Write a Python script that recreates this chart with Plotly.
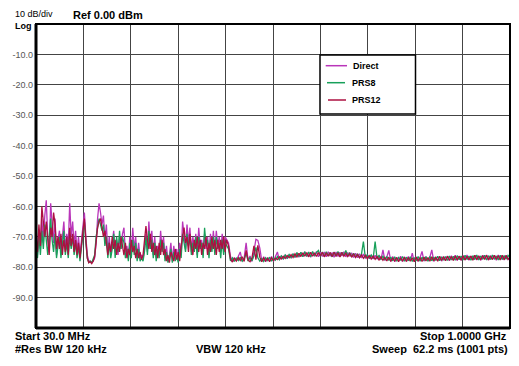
import plotly.graph_objects as go

# ---------------- data ----------------
busy_freq = list(range(30, 421, 3))     # MHz, 131 points (30 .. 420)
FLAT_START, FLAT_STEP = 424, 4          # flat part: 424 .. 1000 MHz

direct_busy = [-66, -76, -68, -74, -64, -72, -63, -58, -70, -75, -59, -66, -72, -64, -76, -71, -68, -75, -70, -65,
               -74, -69, -73, -59, -70, -65, -73, -68, -75, -70, -76, -72, -66, -62, -70, -76, -78, -78, -78.5, -78,
               -77, -72, -64, -59, -62, -66, -63, -71, -66, -75, -70, -76, -72, -68, -75, -71, -76, -70, -74, -69,
               -67, -75, -73, -77, -70, -76, -67, -74, -70, -77, -72, -77, -76, -77, -74, -69, -75, -65, -73, -68,
               -76, -70, -77, -73, -76, -68, -74, -70, -77, -73, -78, -76, -72, -78, -73, -77, -74, -78, -72, -76,
               -65, -70, -74, -66, -72, -67, -75, -70, -74, -69, -76, -67, -73, -71, -76, -69, -74, -70, -76, -69,
               -74, -68, -75, -68, -73, -70, -75, -69, -74, -70, -71]
direct_flat = [-72, -76.5, -78.2, -76.8, -77.9, -76.4, -75, -78, -76.9, -72,
               -77.8, -76.3, -78.1, -74.8, -70.8, -71.2, -73.7, -77.9, -76.6, -78.2,
               -76.8, -77.9, -76.5, -78, -76.7, -75, -77.6, -76.2, -77.4, -75.9,
               -77.2, -76, -76.9, -75.6, -76.8, -75.3, -76.7, -75.1, -76.6, -74.9,
               -76.5, -75.2, -76.7, -75, -76.4, -74.8, -76.6, -75.1, -76.5, -75,
               -76.6, -74.9, -76.4, -75.2, -76.7, -75, -76.5, -75.1, -76.3, -74.9,
               -76.6, -75.2, -76.4, -75.3, -76.8, -75.4, -76.9, -75.6, -77, -75.7,
               -77.1, -75.8, -77.2, -76, -77.3, -76.1, -77.4, -76.2, -77.5, -74.3,
               -77.8, -76.6, -74.5, -78, -76.5, -78.2, -76.7, -78, -76.4, -78.1,
               -76.6, -78, -76.5, -77.9, -75.4, -78.1, -76.6, -78, -76.8, -74.8,
               -78, -76.5, -77.9, -76.7, -74.3, -78.1, -76.6, -77.9, -76.4, -78,
               -76.5, -77.8, -76.3, -77.9, -76.2, -77.6, -76.1, -77.8, -76.3, -77.7,
               -76.2, -77.6, -76, -77.7, -76.3, -77.5, -76.1, -77.6, -76.2, -77.7,
               -76.1, -77.5, -76, -77.6, -76.2, -77.4, -76.1, -77.7, -76, -77.5,
               -76.2, -77.6, -76.1, -77.4, -76.5]

prs8_busy = [-72, -77, -70, -76, -68, -74, -66, -72, -76, -70, -64, -71, -75, -69, -77, -73, -70, -77, -73, -68,
             -76, -72, -77, -70, -74, -70, -76, -72, -77, -73, -78, -74, -69, -65, -72, -77, -78.5, -78, -78.5, -77.5,
             -76, -70, -66, -64, -66, -68, -66, -73, -70, -77, -72, -77, -74, -69, -77, -70, -75, -68, -74, -70,
             -72, -77, -74, -78, -72, -77, -71, -76, -72, -78, -74, -78, -77, -78, -75, -70, -76, -68, -74, -71,
             -77, -72, -78, -74, -77, -71, -75, -72, -78, -75, -78.5, -77, -74, -78.5, -75, -78, -76, -78.5, -74, -77,
             -69, -72, -75, -69, -73, -70, -76, -72, -75, -70, -77, -70, -74, -72, -77, -67, -73, -71, -77, -71,
             -75, -70, -76, -70, -74, -72, -77, -71, -76, -72, -73]
prs8_flat = [-74, -77.9, -76.9, -78.1, -77, -77.8, -76.7, -78, -77.1, -75.5,
             -78, -76.8, -77.9, -76.2, -73.5, -76.9, -78, -77.2, -78.1, -76.9,
             -77.8, -76.7, -78, -77, -77.7, -76.5, -77.5, -76.3, -77.2, -76,
             -77, -75.8, -76.8, -75.6, -76.7, -75.2, -76.5, -75.1, -76.6, -74.9,
             -76.4, -75, -76.6, -74.8, -76.3, -75.1, -74.5, -76.4, -75, -76.5,
             -74.9, -76.3, -75.2, -76.6, -75, -76.4, -74.8, -76.5, -75.1, -76.2,
             -74.5, -76.4, -75.2, -76.6, -75.4, -76.7, -75.6, -76.9, -75.8, -71.6,
             -76.9, -75.9, -77, -76, -77.1, -71.6, -77.2, -76.2, -77.4, -76.4,
             -77.6, -76.5, -77.8, -76.7, -77.9, -76.6, -78, -76.8, -77.8, -76.5,
             -78, -76.7, -77.9, -76.6, -78.1, -76.8, -77.9, -76.5, -78, -76.7,
             -77.8, -76.6, -78, -76.5, -77.9, -76.7, -77.8, -76.4, -77.9, -76.6,
             -77.7, -76.5, -77.8, -76.3, -77.6, -76.4, -77.7, -76.2, -77.5, -76.3,
             -77.6, -76.1, -77.5, -76.3, -77.7, -76.2, -77.5, -76, -77.6, -76.3,
             -77.4, -76.1, -77.6, -76.2, -77.5, -76, -77.4, -76.3, -77.6, -76.1,
             -77.5, -76.2, -77.4, -76.1, -76.8]

prs12_busy = [-70, -75, -66, -73, -60, -64, -70, -65, -72, -76, -67, -70, -62, -66, -74, -70, -74, -69, -76, -71,
              -75, -70, -76, -67, -73, -69, -75, -71, -76, -72, -77, -73, -68, -64, -71, -77, -78.5, -78.2, -78.8, -78,
              -76.5, -71, -67, -65, -64, -67, -70, -68, -73, -76, -72, -75, -70, -74, -71, -76, -72, -75, -70, -74,
              -76, -72, -77, -74, -76, -71, -75, -73, -77, -74, -77, -75, -77.5, -76, -72, -66.5, -71, -74, -69, -75,
              -72, -76, -73, -77, -72, -76, -71, -76, -74, -78, -76, -78.5, -75, -77, -78, -74, -77.5, -75, -78, -73,
              -70, -67, -72, -70, -75, -69, -73, -76, -71, -74, -70, -75, -71, -76, -72, -74, -70, -76, -72, -75,
              -70, -74, -71, -76, -71, -75, -71, -74, -70, -75, -71]
prs12_flat = [-73, -77.3, -78.3, -77, -78, -76.9, -77.8, -76.6, -78.1, -74.5,
              -77.6, -78.2, -76.9, -73, -77.5, -72.8, -76.7, -78.2, -77, -77.9,
              -77.1, -78.2, -76.9, -77.8, -77, -77.5, -76.6, -77.3, -76.4, -77.1,
              -76.2, -76.9, -75.9, -76.8, -75.6, -76.6, -75.4, -76.5, -75.3, -76.4,
              -75.2, -76.6, -75.1, -76.4, -75.3, -76.5, -75.2, -76.3, -75.1, -76.6,
              -75.3, -76.4, -75.2, -76.5, -75.1, -76.3, -75.3, -76.6, -75.2, -76.4,
              -75.4, -76.5, -75.5, -76.7, -75.6, -76.8, -75.8, -76.9, -76, -77.1,
              -76.1, -77.2, -76.2, -77.3, -76.4, -77.4, -76.5, -77.6, -76.6, -77.7,
              -76.8, -77.9, -76.7, -78.1, -76.9, -78, -76.8, -78.2, -76.9, -78,
              -76.7, -78.1, -76.8, -78, -76.9, -78.2, -76.7, -78, -76.8, -78.1,
              -76.7, -77.9, -76.8, -78, -76.6, -77.9, -76.7, -78, -76.5, -77.8,
              -76.6, -77.9, -76.4, -77.7, -76.5, -77.8, -76.3, -77.6, -76.4, -77.7,
              -76.2, -77.6, -76.4, -77.5, -76.3, -77.7, -76.1, -77.5, -76.3, -77.6,
              -76.2, -77.4, -76.1, -77.6, -76.3, -77.5, -76.1, -77.4, -76.2, -77.6,
              -76.1, -77.5, -76.2, -77.4, -76.7]

series_names = ["Direct", "PRS8", "PRS12"]
series_values = [direct_busy + direct_flat, prs8_busy + prs8_flat, prs12_busy + prs12_flat]
series_colors = ["#B935B9", "#18A05A", "#AC1040"]

y_tick_vals = [-10, -20, -30, -40, -50, -60, -70, -80, -90]
y_tick_text = ["-10.0", "-20.0", "-30.0", "-40.0", "-50.0", "-60.0", "-70.0", "-80.0", "-90.0"]

# ---------------- layout helpers ----------------
W, H = 519, 366
L, R, T, B = 36, 9, 24, 38
PW, PH = W - L - R, H - T - B


def px(x):
    return (x - L) / PW


def py(y):
    return (H - B - y) / PH


FONT = "Liberation Sans, Arial, sans-serif"

fig = go.Figure()
for name, vals, col in zip(series_names, series_values, series_colors):
    n_flat = len(vals) - len(busy_freq)
    xs = busy_freq + [FLAT_START + FLAT_STEP * i for i in range(n_flat)]
    fig.add_trace(go.Scatter(x=xs, y=vals, mode="lines", name=name,
                             line=dict(color=col, width=1.3), showlegend=False))

fig.update_layout(
    width=W, height=H,
    margin=dict(l=L, r=R, t=T, b=B),
    paper_bgcolor="white", plot_bgcolor="white",
    font=dict(family=FONT, color="#000"),
    xaxis=dict(range=[30, 1000], tickvals=[30 + 97 * k for k in range(11)], showticklabels=False,
               showgrid=True, gridcolor="#444", gridwidth=1, zeroline=False, ticks=""),
    yaxis=dict(range=[-100, 0], tickvals=y_tick_vals, ticktext=y_tick_text, showgrid=True,
               gridcolor="#444", gridwidth=1, zeroline=False, ticks="",
               tickfont=dict(size=9, color="#555", family=FONT), ticklabelstandoff=2),
    showlegend=False,
)

# legend box (drawn as shapes + labels, using the trace colours)
legend_rows_y = [65.7, 82.7, 100]
legend_line_x = [(325.7, 347), (327, 345), (328, 346)]
legend_text_x = [350.5, 349.5, 349.5]

shapes = [
    dict(type="rect", xref="paper", yref="paper", x0=px(320), x1=px(415.5), y0=py(114), y1=py(55),
         line=dict(color="black", width=1.5), fillcolor="white", layer="above"),
    dict(type="rect", xref="paper", yref="paper", x0=0, x1=1, y0=0, y1=1,
         line=dict(color="black", width=2)),
    dict(type="line", xref="paper", yref="paper", x0=0, x1=0, y0=0, y1=1, line=dict(color="black", width=3)),
    dict(type="line", xref="paper", yref="paper", x0=0, x1=1, y0=0, y1=0, line=dict(color="black", width=3)),
]
for (x0, x1), yy, col in zip(legend_line_x, legend_rows_y, series_colors):
    shapes.append(dict(type="line", xref="paper", yref="paper", x0=px(x0), x1=px(x1), y0=py(yy), y1=py(yy),
                       line=dict(color=col, width=1.5), layer="above"))
fig.update_layout(shapes=shapes)


def ann(text, x, y, xanchor="left", size=11, bold=True):
    fig.add_annotation(text=text, xref="paper", yref="paper", x=px(x), y=py(y), xanchor=xanchor,
                       yanchor="middle", showarrow=False, align=xanchor,
                       font=dict(size=size, family=FONT, color="#000", weight="bold" if bold else "normal"))


for name, yy, tx in zip(series_names, legend_rows_y, legend_text_x):
    ann(name, tx, yy, size=9)

ann("10 dB/div<br><b>Log</b>", 13, 19.5, size=9, bold=False)
ann("Ref 0.00 dBm", 71, 14.5, size=11)
ann("Start 30.0 MHz", 13, 336, size=11)
ann("#Res BW 120 kHz", 13, 349, size=11)
ann("VBW 120 kHz", 194, 349, size=11)
ann("Stop 1.0000 GHz", 509, 336, xanchor="right", size=11)
ann("Sweep  62.2 ms (1001 pts)", 510, 349, xanchor="right", size=11)

fig.write_html("out.html", config={"displayModeBar": False},
               post_script="document.body.style.margin='0px';")
